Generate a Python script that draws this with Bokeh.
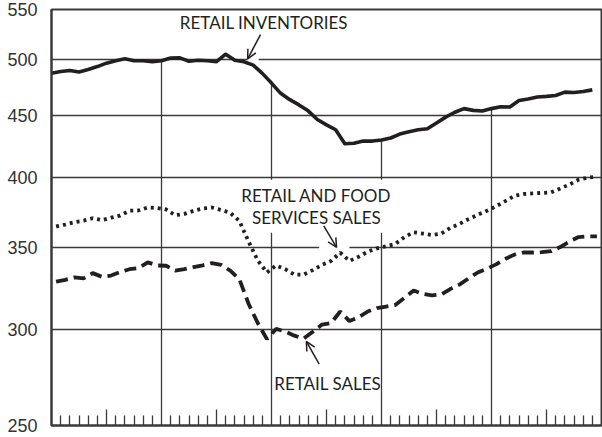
from bokeh.plotting import figure
from bokeh.models import Range1d, FixedTicker, Label, Arrow, OpenHead, PrintfTickFormatter
from bokeh.embed import file_html
from bokeh.resources import INLINE

# ---- data (monthly, 5 years) ----
months = list(range(60))
sales_months = [m + 0.5 for m in months]

inventories = [487.5, 489.1, 490.0, 488.6, 490.9, 493.6, 496.8, 499.1, 500.9, 499.1,
               499.1, 498.2, 499.1, 501.6, 501.8, 498.6, 499.5, 499.1, 498.2, 505.3,
               499.5, 498.2, 495.0, 487.3, 478.4, 469.2, 463.6, 459.0, 453.9, 446.5,
               442.0, 437.9, 426.4, 426.8, 428.6, 428.6, 429.5, 431.1, 434.3, 436.3,
               437.9, 438.7, 443.6, 448.5, 452.7, 455.8, 454.3, 453.8, 455.8, 457.4,
               457.2, 462.8, 464.2, 465.9, 466.5, 467.3, 470.3, 470.0, 470.8, 472.3]

retail_food_sales = [364.6, 365.9, 367.6, 368.6, 370.3, 369.0, 370.7, 372.2, 375.6, 375.8,
                     377.9, 377.6, 376.5, 372.4, 373.4, 375.5, 377.2, 377.9, 376.2, 374.1,
                     368.3, 354.3, 341.8, 334.1, 338.6, 336.2, 332.8, 332.8, 335.6, 339.0,
                     341.5, 346.9, 341.5, 344.2, 347.5, 349.8, 351.1, 352.7, 357.3, 360.6,
                     359.7, 358.7, 359.6, 363.6, 366.3, 369.7, 372.7, 375.5, 378.8, 382.5,
                     386.4, 387.7, 388.1, 388.5, 388.9, 391.7, 394.8, 398.3, 399.9, 400.5]

retail_sales = [328.4, 329.5, 331.0, 330.4, 333.7, 331.4, 332.2, 334.4, 336.2, 337.0,
                340.6, 338.6, 338.4, 335.3, 336.2, 337.5, 338.7, 340.1, 339.0, 335.3,
                329.8, 314.9, 303.6, 294.5, 300.2, 298.8, 296.4, 294.7, 298.6, 302.7,
                303.6, 310.3, 304.7, 306.9, 310.3, 312.3, 313.2, 314.1, 318.4, 322.9,
                320.8, 319.9, 320.5, 323.8, 326.5, 330.4, 334.1, 336.5, 339.3, 342.8,
                345.6, 347.0, 347.0, 347.2, 347.9, 350.6, 354.3, 357.3, 357.8, 357.8]

year_marks = [12, 24, 36, 48]
half_year_ticks = [6, 18, 30, 42, 54]
month_ticks = [m for m in range(1, 60) if m % 6 != 0]
y_tick_values = [250, 300, 350, 400, 450, 500, 550]
y_grid_values = [300, 350, 400, 450, 500]

# white masks that open gaps in the grid behind the annotations
mask_left = [20.6, 29.2, 21.4]
mask_right = [37.2, 32.5, 22.6]
mask_bottom = [360.3, 347.0, 496.0]
mask_top = [398.3, 353.0, 504.0]

INK = "#231f20"
GRID = "#3a3a3a"
TEXT_FONT = "Lato"
AXIS_FONT = "Liberation Sans"

p = figure(width=602, height=437, x_range=Range1d(0, 60), y_range=Range1d(250, 550),
           y_axis_type="log", output_backend="svg", toolbar_location=None,
           min_border_left=51, min_border_right=1, min_border_top=9, min_border_bottom=12)
p.outline_line_color = GRID
p.outline_line_width = 2
p.background_fill_color = "white"
p.border_fill_color = "white"

p.xgrid.visible = False
p.ygrid.ticker = FixedTicker(ticks=y_grid_values)
p.ygrid.grid_line_color = GRID
p.ygrid.grid_line_width = 1.3

yax = p.yaxis[0]
yax.ticker = FixedTicker(ticks=y_tick_values)
yax.formatter = PrintfTickFormatter(format="%d")
yax.major_tick_line_color = None
yax.minor_tick_line_color = None
yax.axis_line_color = GRID
yax.axis_line_width = 2
yax.major_label_text_font = AXIS_FONT
yax.major_label_text_font_size = "18px"
yax.major_label_text_color = "#333333"
yax.major_label_standoff = 8

xax = p.xaxis[0]
xax.ticker = FixedTicker(ticks=half_year_ticks, minor_ticks=month_ticks)
xax.major_tick_in = 16
xax.major_tick_out = 0
xax.minor_tick_in = 10
xax.minor_tick_out = 0
xax.major_tick_line_color = GRID
xax.minor_tick_line_color = GRID
xax.major_tick_line_width = 1.3
xax.minor_tick_line_width = 1.3
xax.major_label_overrides = {t: "" for t in half_year_ticks}
xax.major_label_text_color = None
xax.major_label_text_font_size = "1px"
xax.major_label_standoff = 0
xax.axis_line_color = GRID
xax.axis_line_width = 2

# vertical year lines, from the bottom up to the inventories curve
p.segment(x0=year_marks, y0=[250] * len(year_marks), x1=year_marks,
          y1=[inventories[m] for m in year_marks], line_color=GRID, line_width=1.3)

# gaps behind the label block and the arrow tips
p.quad(left=mask_left, right=mask_right, bottom=mask_bottom, top=mask_top,
       fill_color="white", line_color=None)

# series
p.line(months, inventories, line_color=INK, line_width=3.6, line_join="round")
p.line(sales_months, retail_food_sales, line_color=INK, line_width=3.8, line_dash="3 4")
p.line(sales_months, retail_sales, line_color=INK, line_width=3.8, line_dash="12 6")

# annotations
p.add_layout(Label(x=14.0, y=536.5, text="RETAIL INVENTORIES", text_align="left",
                   text_baseline="alphabetic", text_font=TEXT_FONT, text_font_size="17px",
                   text_color=INK))
p.add_layout(Label(x=28.9, y=394.5, text="RETAIL AND FOOD\nSERVICES SALES", text_align="center",
                   text_baseline="top", text_font=TEXT_FONT, text_font_size="17px",
                   text_color=INK, text_line_height=1.05))
p.add_layout(Label(x=24.3, y=270.8, text="RETAIL SALES", text_align="left",
                   text_baseline="alphabetic", text_font=TEXT_FONT, text_font_size="17px",
                   text_color=INK))

p.add_layout(Arrow(end=OpenHead(size=9, line_width=1.5, line_color=INK),
                   x_start=22.8, y_start=524.5, x_end=21.4, y_end=500.9,
                   line_width=1.5, line_color=INK))
p.add_layout(Arrow(end=OpenHead(size=9, line_width=1.5, line_color=INK),
                   x_start=29.7, y_start=364.9, x_end=31.1, y_end=350.4,
                   line_width=1.5, line_color=INK))
p.add_layout(Arrow(end=OpenHead(size=9, line_width=1.5, line_color=INK),
                   x_start=29.2, y_start=280.9, x_end=27.8, y_end=293.2,
                   line_width=1.5, line_color=INK))

open("out.html", "w").write(file_html(p, INLINE))
